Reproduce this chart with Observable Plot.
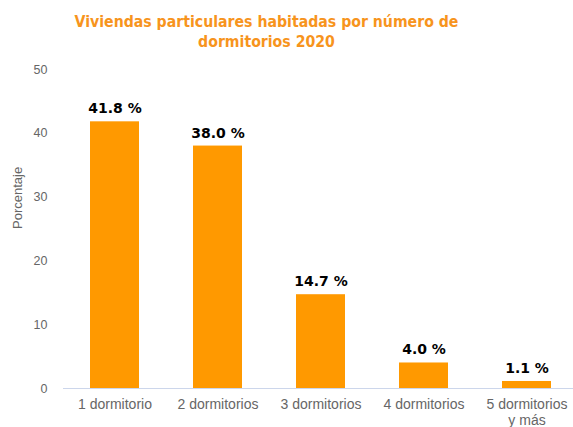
<!DOCTYPE html>
<html><head><meta charset="utf-8">
<script src="https://cdn.jsdelivr.net/npm/d3@7"></script>
<script src="https://cdn.jsdelivr.net/npm/@observablehq/plot@0.6"></script>
<style>
body{margin:0;background:#fff;width:573px;height:427px;overflow:hidden}
#title{font-family:"DejaVu Sans Condensed","DejaVu Sans",Verdana,sans-serif;font-stretch:condensed;font-weight:bold;color:#f7941d;font-size:15.7px;line-height:20px;text-align:center;padding-top:12px;height:55px;box-sizing:border-box;width:533px}
#chart svg{display:block;overflow:visible}
</style></head><body>
<div id="title">Viviendas particulares habitadas por número de<br>dormitorios 2020</div>
<div id="chart"></div>
<script>
const categories = ["1 dormitorio","2 dormitorios","3 dormitorios","4 dormitorios","5 dormitorios\ny más"];
const values = [41.8, 38.0, 14.7, 4.0, 1.1];
const yTicks = [0,10,20,30,40,50];
const data = categories.map((c,i)=>({cat:c, v:values[i]}));
const chart = Plot.plot({
  width:573, height:372,
  marginLeft:63, marginRight:0, marginTop:14, marginBottom:39,
  style:{fontFamily:"'Liberation Sans',Arial,sans-serif", fontSize:"12px", background:"#fff"},
  x:{domain:categories, range:[63,578], paddingInner:0.52, paddingOuter:0.26, label:null},
  y:{domain:[0,50], label:null},
  marks:[
    Plot.gridY(yTicks.filter(d=>d>0), {stroke:"#e6e6e6", strokeOpacity:1, x1:63, x2:573}),
    Plot.axisY(yTicks, {tickSize:0, tickPadding:16, fill:"#666", fontSize:12.5, label:null}),
    Plot.barY(data, {x:"cat", y:"v", fill:"#ff9900"}),
    Plot.ruleY([0], {stroke:"#ccd6eb"}),
    Plot.axisX({tickSize:0, tickPadding:10, fill:"#666", fontSize:14, lineHeight:1.1, label:null}),
    Plot.text(data, {x:"cat", y:"v", text:d=>d.v.toFixed(1)+" %", dy:-13, fontWeight:"bold", fontSize:14, fill:"#000", fontFamily:"'DejaVu Sans',Verdana,sans-serif"}),
    Plot.text(["Porcentaje"], {frameAnchor:"left", rotate:-90, dx:-46, fill:"#666", fontSize:13})
  ]
});
document.getElementById("chart").append(chart);
</script>
</body></html>
